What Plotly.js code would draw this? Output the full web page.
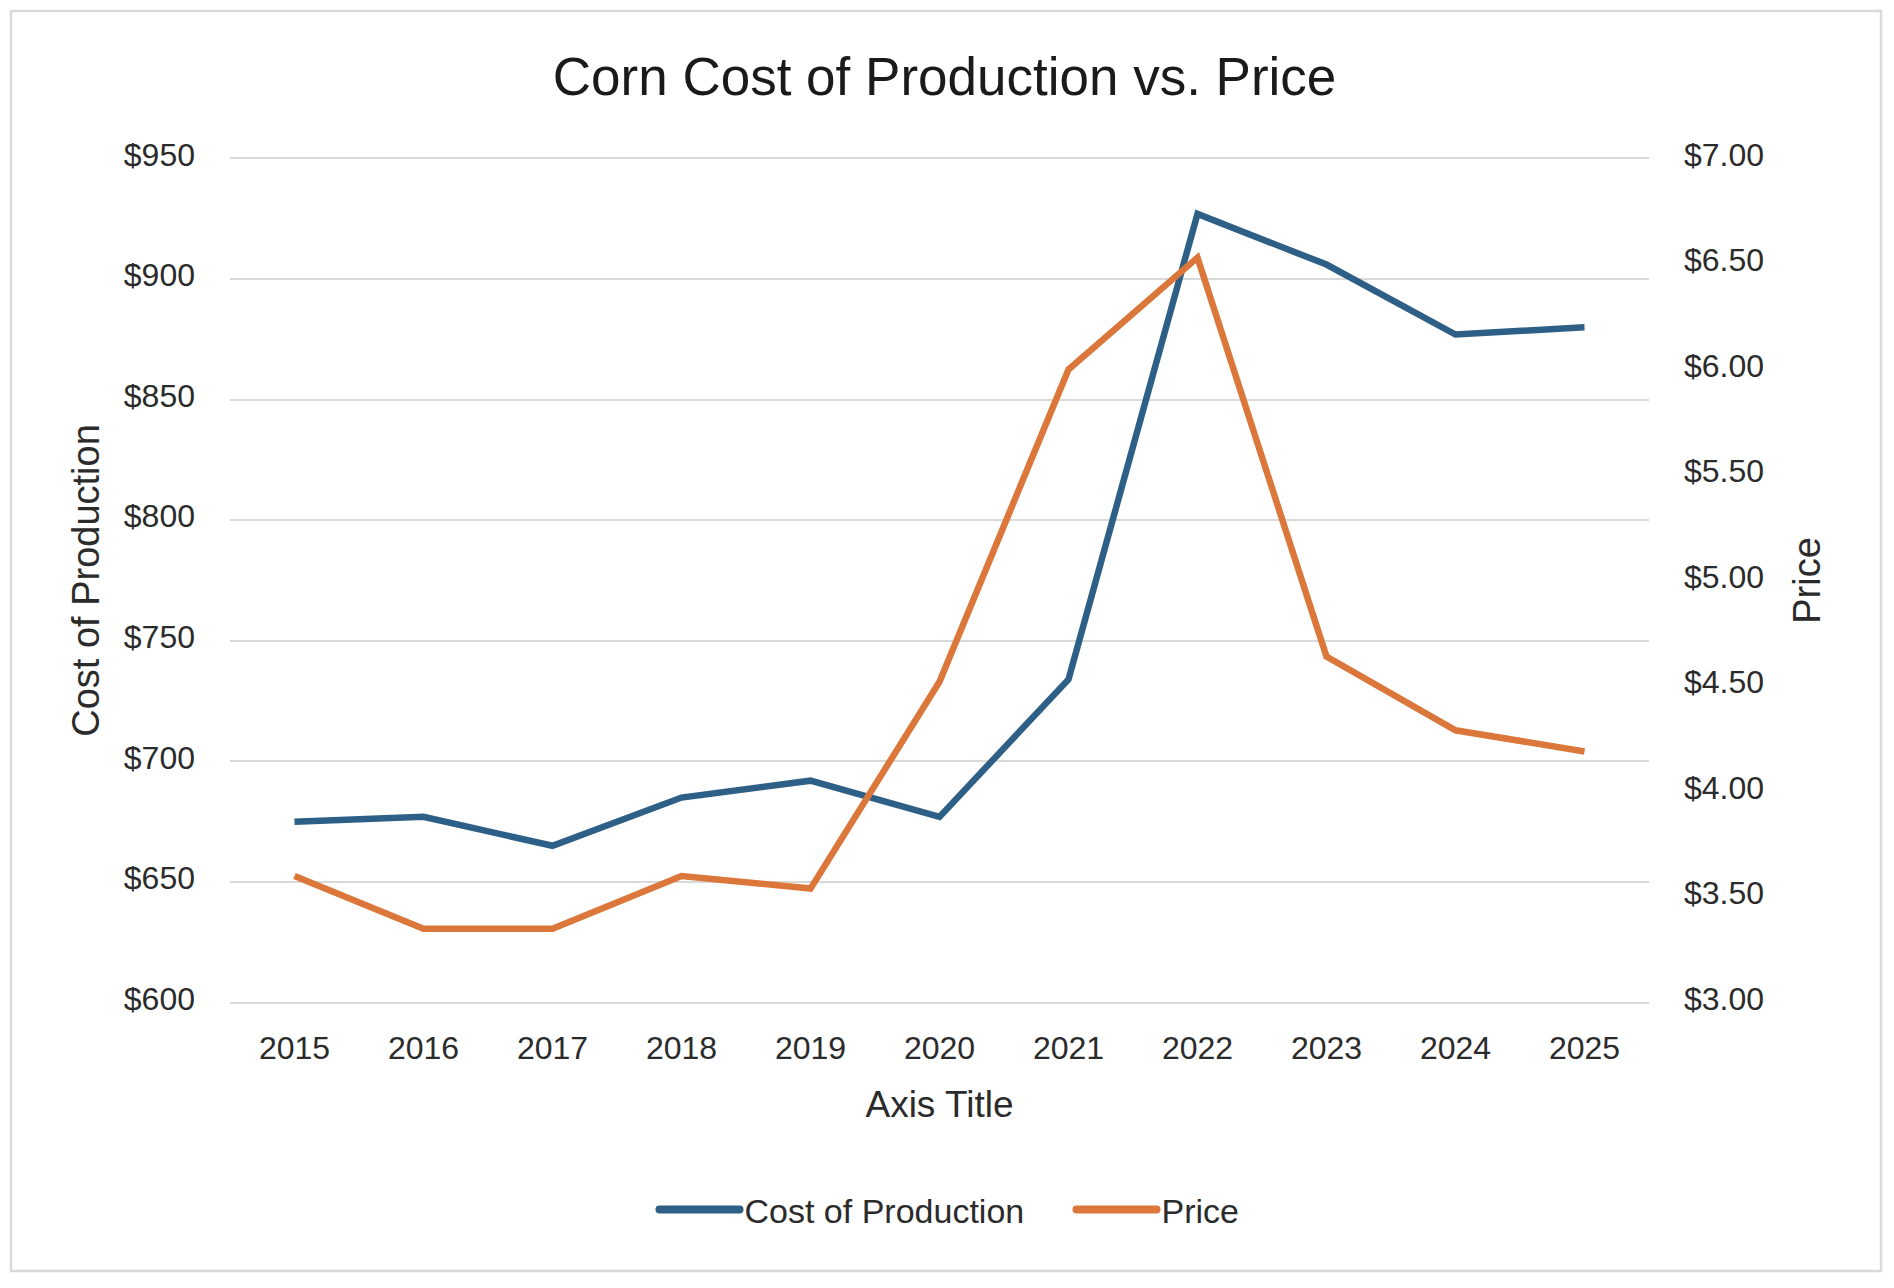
<!DOCTYPE html>
<html>
<head>
<meta charset="utf-8">
<script src="https://cdn.plot.ly/plotly-3.0.1.min.js"></script>
<style>
html,body{margin:0;padding:0;background:#fff;}
#chart{width:1894px;height:1288px;}
</style>
</head>
<body>
<div id="chart"></div>
<script>
const years = ["2015","2016","2017","2018","2019","2020","2021","2022","2023","2024","2025"];
const costOfProduction = [675, 677, 665, 685, 692, 677, 734, 927, 906, 877, 880];
const price = [3.60, 3.35, 3.35, 3.60, 3.54, 4.52, 6.00, 6.53, 4.64, 4.29, 4.19];
const leftTicks = [600, 650, 700, 750, 800, 850, 900, 950];
const rightTicks = [3.0, 3.5, 4.0, 4.5, 5.0, 5.5, 6.0, 6.5, 7.0];

const FONT = "'Liberation Sans', Arial, sans-serif";
const TXT = "#2b2b2b";
const LEGEND_LINE = 80;

const traces = [
  {
    x: years, y: costOfProduction, name: "Cost of Production",
    type: "scatter", mode: "lines",
    line: {color: "#2E5F86", width: 6.5, shape: "linear"},
    legendwidth: 322,
    yaxis: "y"
  },
  {
    x: years, y: price, name: "Price",
    type: "scatter", mode: "lines",
    line: {color: "#DB773B", width: 6.5, shape: "linear"},
    yaxis: "y2"
  }
];

const L = 230, R = 245, T = 157, B = 284;
const W = 1894, H = 1288;
const pw = W - L - R, ph = H - T - B;

const padL = 0.6;
const padR = padL * (7 - 3) / (950 - 600);

const layout = {
  width: W, height: H,
  margin: {l: L, r: R, t: T, b: B, pad: 0},
  paper_bgcolor: "#ffffff",
  plot_bgcolor: "#ffffff",
  font: {family: FONT, color: TXT, size: 32},
  title: {
    text: "Corn Cost of Production vs. Price",
    font: {family: FONT, size: 53, color: "#1a1a1a"},
    x: (944.6 - L) / pw, xref: "paper", xanchor: "center",
    y: 1 - 76/H, yref: "container", yanchor: "middle"
  },
  showlegend: true,
  legend: {
    orientation: "h",
    x: 0.5 + 10 / pw, xanchor: "center", xref: "paper",
    y: -(1210 - (T + ph)) / ph, yanchor: "middle",
    font: {family: FONT, size: 34, color: TXT},
    itemwidth: LEGEND_LINE,
    tracegroupgap: 0
  },
  xaxis: {
    type: "category",
    categoryorder: "array", categoryarray: years,
    range: [-0.5, years.length - 0.5],
    showgrid: false, zeroline: false,
    showline: false,
    ticks: "", ticklabelstandoff: 22,
    tickfont: {family: FONT, size: 32, color: TXT},
    title: {text: "Axis Title", font: {family: FONT, size: 37, color: TXT}, standoff: 26}
  },
  yaxis: {
    range: [600 - padL, 950 + padL],
    tickmode: "array", tickvals: leftTicks,
    ticktext: leftTicks.map(v => "$" + v),
    showgrid: true, gridcolor: "#d9d9d9", gridwidth: 2,
    zeroline: false, showline: false, ticks: "",
    ticklabelstandoff: 34,
    ticklabelshift: -4,
    tickfont: {family: FONT, size: 32, color: TXT},
    title: {text: "Cost of Production", font: {family: FONT, size: 38, color: TXT}, standoff: 12}
  },
  yaxis2: {
    range: [3 - padR, 7 + padR],
    overlaying: "y", side: "right",
    tickmode: "array", tickvals: rightTicks,
    ticktext: rightTicks.map(v => "$" + v.toFixed(2)),
    showgrid: false, zeroline: false, showline: false, ticks: "",
    ticklabelstandoff: 34,
    ticklabelshift: -4,
    tickfont: {family: FONT, size: 32, color: TXT},
    title: {text: "Price", font: {family: FONT, size: 38, color: TXT}, standoff: 30}
  },
  shapes: [
    {
      type: "rect", xref: "paper", yref: "paper", layer: "below",
      x0: (11 - L) / pw, x1: (1881 - L) / pw,
      y0: -(1271 - (T + ph)) / ph, y1: 1 + (T - 11) / ph,
      line: {color: "#d9d9d9", width: 2.5},
      fillcolor: "rgba(0,0,0,0)"
    }
  ]
};

function styleLegendLines(gd) {
  gd.querySelectorAll(".legend .legendlines path").forEach(p => {
    p.setAttribute("d", "M5,0h" + LEGEND_LINE);
    p.style.strokeLinecap = "round";
    p.style.strokeWidth = "8px";
  });
}

Plotly.newPlot("chart", traces, layout, {displayModeBar: false, staticPlot: true})
  .then(gd => { styleLegendLines(gd); });
</script>
</body>
</html>
